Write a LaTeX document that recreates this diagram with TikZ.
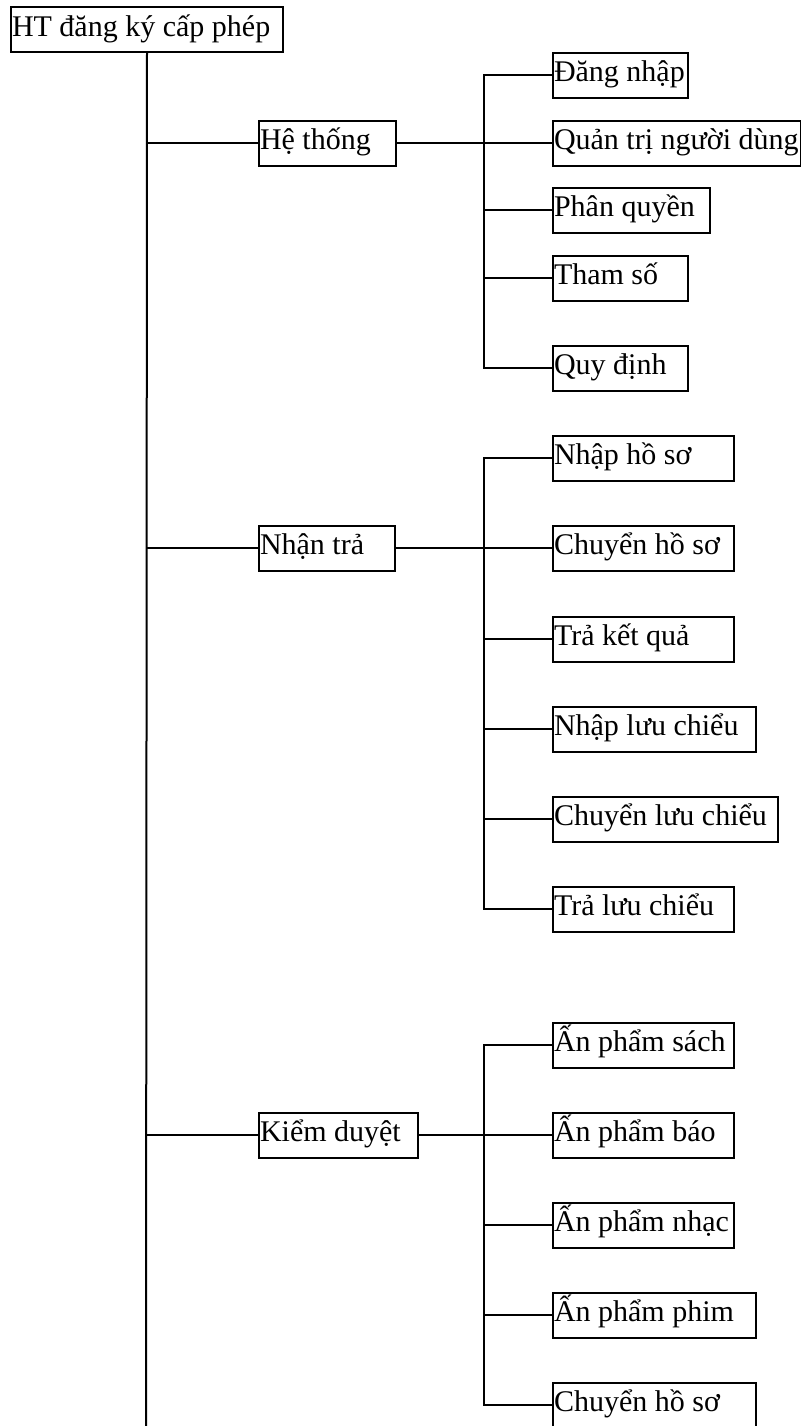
\documentclass[tikz,border=0pt]{standalone}
\usepackage{fontspec}
\setmainfont{Liberation Serif}

\begin{document}
\begin{tikzpicture}[x=0.5pt,y=-0.5pt,line width=1pt,
    font=\fontsize{15pt}{18pt}\selectfont]

        \useasboundingbox (0,0) rectangle (801,1426);

        \begin{scope}[every node/.style={draw,anchor=west,align=flush left,
            inner xsep=0.5pt,inner ysep=0pt,text height=14.5pt,text depth=8pt}]
          % goc
          \node[text width=135pt]   (root)      at (10,29.5)  {HT đăng ký cấp phép};

          % cap 1
          \node[text width=67.5pt]  (hethong)   at (258,143)  {Hệ thống};
          \node[text width=67pt]    (nhantra)   at (258,548)  {Nhận trả};
          \node[text width=78.5pt]  (kiemduyet) at (258,1135) {Kiểm duyệt};

          % he thong
          \node[text width=66.5pt]  (dangnhap)  at (552,75)   {Đăng nhập};
          \node[text width=123pt]   (quantri)   at (552,143)  {Quản trị người dùng};
          \node[text width=77.5pt]  (phanquyen) at (552,210)  {Phân quyền};
          \node[text width=66.5pt]  (thamso)    at (552,278)  {Tham số};
          \node[text width=66.5pt]  (quydinh)   at (552,368)  {Quy định};

          % nhan tra
          \node[text width=89.5pt]  (nhaphs)    at (552,458)  {Nhập hồ sơ};
          \node[text width=89.5pt]  (chuyenhs)  at (552,548)  {Chuyển hồ sơ};
          \node[text width=89.5pt]  (traketqua) at (552,639)  {Trả kết quả};
          \node[text width=100.5pt] (nhaplc)    at (552,729)  {Nhập lưu chiểu};
          \node[text width=111.5pt] (chuyenlc)  at (552,819)  {Chuyển lưu chiểu};
          \node[text width=89.5pt]  (tralc)     at (552,909)  {Trả lưu chiểu};

          % kiem duyet
          \node[text width=89.5pt]  (sach)      at (552,1045) {Ấn phẩm sách};
          \node[text width=89.5pt]  (bao)       at (552,1135) {Ấn phẩm báo};
          \node[text width=89.5pt]  (nhac)      at (552,1225) {Ấn phẩm nhạc};
          \node[text width=100.5pt] (phim)      at (552,1315) {Ấn phẩm phim};
          \node[text width=100.5pt] (kdchuyen)  at (552,1405) {Chuyển hồ sơ};
        \end{scope}

        \coordinate (trunkend) at (146,1426);
        \coordinate (forkx)    at (484,0);

        % truc chinh
        \draw (root.south) -- (trunkend);
        \foreach \n in {hethong,nhantra,kiemduyet}
          \draw (root.south |- \n.west) -- (\n.west);

        % nhanh con
        \path (hethong)   edge (quantri);
        \path (nhantra)   edge (chuyenhs);
        \path (kiemduyet) edge (bao);

        \draw (dangnhap.west) -- (dangnhap.west -| forkx) -- (quydinh.west -| forkx) -- (quydinh.west);
        \draw (nhaphs.west) -- (nhaphs.west -| forkx) -- (tralc.west -| forkx) -- (tralc.west);
        \draw (sach.west) -- (sach.west -| forkx) -- (kdchuyen.west -| forkx) -- (kdchuyen.west);

        \foreach \c in {phanquyen,thamso,traketqua,nhaplc,chuyenlc,nhac,phim}
          \draw (\c.west -| forkx) -- (\c.west);

      \end{tikzpicture}
\end{document}
